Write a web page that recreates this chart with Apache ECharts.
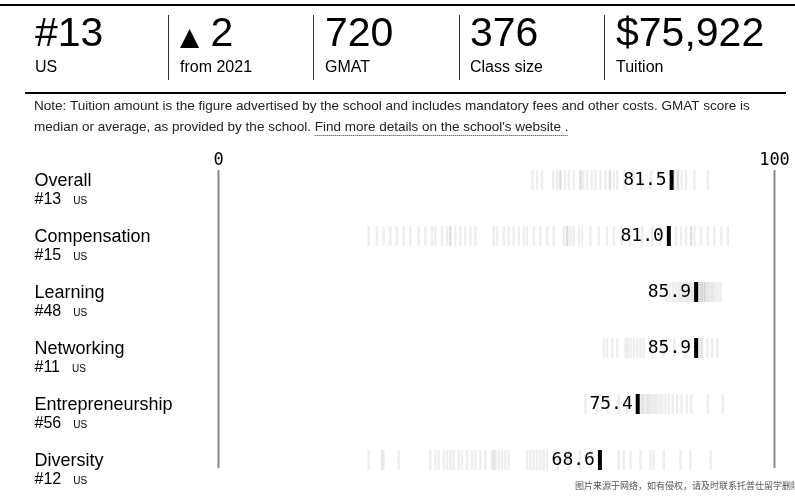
<!DOCTYPE html>
<html><head><meta charset="utf-8">
<script src="https://cdn.jsdelivr.net/npm/echarts@6/dist/echarts.min.js"></script>
<style>html,body{margin:0;padding:0;background:#fff}#c{width:795px;height:496px}</style>
</head><body><div id="c"></div>
<script>
const categories = ['Overall', 'Compensation', 'Learning', 'Networking', 'Entrepreneurship', 'Diversity'];
const ranks = ['#13', '#15', '#48', '#11', '#56', '#12'];
const scores = [81.5, 81.0, 85.9, 85.9, 75.4, 68.6];
const axisTicks = [0, 100];

const peersOverall = [56.5, 57.3, 58.2, 60.2, 60.9, 61.5, 61.5, 62.3, 63.0, 63.9, 65.1, 65.1, 65.6, 66.3, 67.1, 67.8, 68.7, 69.6, 70.4, 70.4, 71.1, 71.7, 73.0, 74.5, 76.0, 77.8, 79.5, 81.9, 82.6, 82.6, 83.3, 84.1, 85.6, 88.0];
const peersCompensation = [27.0, 28.5, 29.7, 30.9, 32.1, 33.3, 34.5, 36.0, 37.2, 38.4, 39.0, 40.2, 41.1, 41.7, 41.7, 42.6, 43.5, 44.4, 45.3, 46.2, 49.5, 50.1, 51.3, 52.2, 53.1, 54.0, 54.9, 55.5, 56.7, 57.9, 59.1, 60.3, 62.1, 62.7, 62.7, 63.3, 63.9, 64.8, 65.4, 66.9, 68.4, 69.9, 71.1, 72.5, 74.0, 76.2, 78.0, 79.5, 82.3, 83.2, 84.1, 85.0, 85.0, 85.6, 86.8, 88.0, 89.2, 90.4, 91.6];
const peersLearning = [80.6, 81.2, 81.8, 82.3, 82.8, 83.2, 83.6, 84.0, 84.4, 84.8, 85.2, 85.5, 86.3, 86.3, 86.6, 86.9, 86.9, 87.2, 87.5, 87.5, 87.9, 88.2, 88.6, 88.9, 89.3, 89.8, 90.3];
const peersNetworking = [69.3, 69.9, 70.8, 71.7, 73.2, 73.6, 74.1, 74.7, 75.3, 75.9, 76.5, 78.0, 80.0, 82.0, 84.0, 86.4, 86.8, 87.0, 87.9, 88.8, 89.7];
const peersEntrepreneurship = [66.0, 68.0, 70.0, 72.0, 73.5, 76.0, 76.3, 76.6, 77.0, 77.3, 77.6, 78.0, 78.4, 78.8, 79.3, 79.8, 80.4, 81.0, 81.7, 82.5, 83.3, 84.2, 85.0, 88.0, 90.7];
const peersDiversity = [27.0, 29.4, 29.7, 32.4, 38.1, 39.0, 39.6, 40.5, 41.1, 41.7, 42.3, 43.2, 43.8, 44.7, 45.6, 46.2, 47.1, 48.0, 49.2, 49.5, 49.8, 50.4, 51.0, 51.6, 52.2, 55.5, 56.1, 56.7, 57.3, 57.9, 58.5, 59.1, 61.0, 63.0, 65.0, 67.0, 72.0, 72.9, 74.1, 75.9, 77.7, 78.3, 80.1, 83.1, 84.9, 88.5];

const headerValues = ['#13', '2', '720', '376', '$75,922'];
const headerLabels = ['US', 'from 2021', 'GMAT', 'Class size', 'Tuition'];
const noteLine1 = 'Note: Tuition amount is the figure advertised by the school and includes mandatory fees and other costs. GMAT score is';
const noteLine2 = 'median or average, as provided by the school. ';
const noteLink = "Find more details on the school's website .";
const watermark = '图片来源于网络，如有侵权，请及时联系托普仕留学删除';

const peerRows = [peersOverall, peersCompensation, peersLearning, peersNetworking, peersEntrepreneurship, peersDiversity];
const peerData = [];
peerRows.forEach((row, i) => row.forEach(v => peerData.push([v, i])));
const scoreData = scores.map((v, i) => [v, i]);

const SANS = '"Liberation Sans", Arial, Helvetica, sans-serif';
const MONO = '"DejaVu Sans Mono", "Liberation Mono", monospace';

function textWidth(str, font) {
  const c = document.createElement('canvas').getContext('2d');
  c.font = font;
  return c.measureText(str).width;
}

const colX = [35, 180, 325, 470, 616];
const sepX = [168.5, 313.5, 459.5, 604.5];
const graphics = [];
graphics.push({type: 'line', shape: {x1: 0, y1: 5, x2: 795, y2: 5}, style: {stroke: '#000', lineWidth: 2}});
graphics.push({type: 'line', shape: {x1: 25, y1: 93, x2: 786, y2: 93}, style: {stroke: '#000', lineWidth: 2}});
sepX.forEach(x => graphics.push({type: 'line', shape: {x1: x, y1: 15, x2: x, y2: 80}, style: {stroke: '#333', lineWidth: 1}}));
headerValues.forEach((v, i) => {
  if (i === 1) {
    graphics.push({type: 'text', x: colX[i], y: 35, style: {
      text: '{a|▲}{b| ' + v + '}', verticalAlign: 'middle',
      rich: {a: {fontSize: 25, fontFamily: 'DejaVu Sans', fill: '#000', padding: [6, 0, 0, 0]}, b: {fontSize: 41, fontFamily: SANS, fill: '#000'}}
    }});
  } else {
    graphics.push({type: 'text', x: colX[i], y: 35, style: {text: v, fontSize: 41, fontFamily: SANS, fill: '#000', verticalAlign: 'middle'}});
  }
  graphics.push({type: 'text', x: colX[i], y: 68, style: {text: headerLabels[i], fontSize: 16, fontFamily: SANS, fill: '#000', verticalAlign: 'middle'}});
});
const noteFont = 13.5;
graphics.push({type: 'text', x: 34, y: 106, style: {text: noteLine1, fontSize: noteFont, fontFamily: SANS, fill: '#222', verticalAlign: 'middle'}});
graphics.push({type: 'text', x: 34, y: 127, style: {text: noteLine2, fontSize: noteFont, fontFamily: SANS, fill: '#222', verticalAlign: 'middle'}});
const w2 = textWidth(noteLine2, noteFont + 'px ' + SANS);
const wl = textWidth(noteLink, noteFont + 'px ' + SANS);
graphics.push({type: 'text', x: 34 + w2, y: 127, style: {text: noteLink, fontSize: noteFont, fontFamily: SANS, fill: '#222', verticalAlign: 'middle'}});
graphics.push({type: 'line', shape: {x1: 34 + w2, y1: 135.5, x2: 34 + w2 + wl, y2: 135.5}, style: {stroke: '#333', lineWidth: 1, lineDash: [1, 1]}});
graphics.push({type: 'text', x: 575, y: 486, style: {text: watermark, fontSize: 9, fontFamily: '"Noto Sans CJK SC", sans-serif', fill: '#555', verticalAlign: 'middle'}});

const chart = echarts.init(document.getElementById('c'), null, {renderer: 'canvas'});
chart.setOption({
  animation: false,
  backgroundColor: '#fff',
  grid: {left: 218.5, right: 20.5, top: 152, bottom: 8, containLabel: false},
  xAxis: {
    type: 'value', min: 0, max: 100, interval: 100, position: 'top', offset: -19,
    axisLine: {show: false}, axisTick: {show: false}, splitLine: {show: false},
    axisLabel: {fontFamily: MONO, fontSize: 17, color: '#000', margin: 2}
  },
  yAxis: {
    type: 'category', data: categories, inverse: true,
    axisLine: {show: false}, axisTick: {show: false}, splitLine: {show: false},
    axisLabel: {
      align: 'left', margin: 184, padding: [20, 0, 0, 0],
      formatter: (value, index) => '{t|' + value + '}\n{r|' + ranks[index] + '}{u|US}',
      rich: {
        t: {fontSize: 18, fontFamily: SANS, color: '#000', lineHeight: 20},
        r: {fontSize: 16, fontFamily: SANS, color: '#000', lineHeight: 18},
        u: {fontSize: 10, fontFamily: SANS, color: '#000', lineHeight: 18, padding: [3, 0, 0, 12]}
      }
    }
  },
  graphic: graphics,
  series: [
    {
      type: 'custom', silent: true, z: 1,
      data: axisTicks.map(v => [v, 0]),
      encode: {x: 0, y: 1},
      renderItem: (params, api) => {
        const top = api.coord([api.value(0), 0]);
        const bot = api.coord([api.value(0), categories.length - 1]);
        return {type: 'line', shape: {x1: top[0], y1: top[1] - 10, x2: top[0], y2: bot[1] + 8}, style: {stroke: '#8a8a8a', lineWidth: 2}};
      }
    },
    {
      type: 'custom', silent: true, z: 2,
      data: peerData,
      encode: {x: 0, y: 1},
      renderItem: (params, api) => {
        const p = api.coord([api.value(0), api.value(1)]);
        return {type: 'rect', shape: {x: p[0] - 1.25, y: p[1] - 10, width: 2.5, height: 20}, style: {fill: 'rgba(0,0,0,0.065)'}};
      }
    },
    {
      type: 'scatter', silent: true, z: 3,
      data: scoreData, symbol: 'rect', symbolSize: [4, 20],
      itemStyle: {color: '#000', opacity: 1, borderWidth: 0},
      label: {
        show: true, position: 'left', distance: 3,
        formatter: p => scores[p.dataIndex].toFixed(1),
        fontFamily: MONO, fontSize: 18, color: '#000'
      }
    }
  ]
});
</script></body></html>
